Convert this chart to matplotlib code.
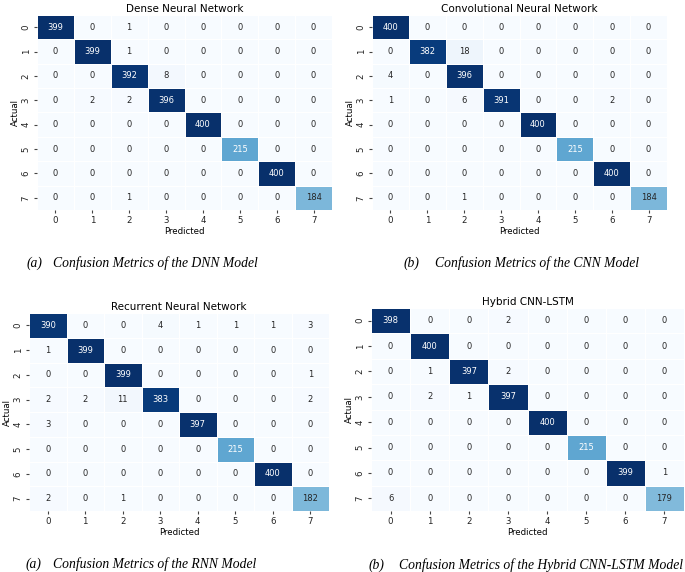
import numpy as np
import matplotlib
matplotlib.use("Agg")
import matplotlib.pyplot as plt
import seaborn as sns

classes = [0, 1, 2, 3, 4, 5, 6, 7]

dnn_cm = [
    [399, 0, 1, 0, 0, 0, 0, 0],
    [0, 399, 1, 0, 0, 0, 0, 0],
    [0, 0, 392, 8, 0, 0, 0, 0],
    [0, 2, 2, 396, 0, 0, 0, 0],
    [0, 0, 0, 0, 400, 0, 0, 0],
    [0, 0, 0, 0, 0, 215, 0, 0],
    [0, 0, 0, 0, 0, 0, 400, 0],
    [0, 0, 1, 0, 0, 0, 0, 184],
]
cnn_cm = [
    [400, 0, 0, 0, 0, 0, 0, 0],
    [0, 382, 18, 0, 0, 0, 0, 0],
    [4, 0, 396, 0, 0, 0, 0, 0],
    [1, 0, 6, 391, 0, 0, 2, 0],
    [0, 0, 0, 0, 400, 0, 0, 0],
    [0, 0, 0, 0, 0, 215, 0, 0],
    [0, 0, 0, 0, 0, 0, 400, 0],
    [0, 0, 1, 0, 0, 0, 0, 184],
]
rnn_cm = [
    [390, 0, 0, 4, 1, 1, 1, 3],
    [1, 399, 0, 0, 0, 0, 0, 0],
    [0, 0, 399, 0, 0, 0, 0, 1],
    [2, 2, 11, 383, 0, 0, 0, 2],
    [3, 0, 0, 0, 397, 0, 0, 0],
    [0, 0, 0, 0, 0, 215, 0, 0],
    [0, 0, 0, 0, 0, 0, 400, 0],
    [2, 0, 1, 0, 0, 0, 0, 182],
]
hybrid_cm = [
    [398, 0, 0, 2, 0, 0, 0, 0],
    [0, 400, 0, 0, 0, 0, 0, 0],
    [0, 1, 397, 2, 0, 0, 0, 0],
    [0, 2, 1, 397, 0, 0, 0, 0],
    [0, 0, 0, 0, 400, 0, 0, 0],
    [0, 0, 0, 0, 0, 215, 0, 0],
    [0, 0, 0, 0, 0, 0, 399, 1],
    [6, 0, 0, 0, 0, 0, 0, 179],
]

titles = ["Dense Neural Network", "Convolutional Neural Network",
          "Recurrent Neural Network", "Hybrid CNN-LSTM"]
caption_tags = ["(a)", "(b)", "(a)", "(b)"]
captions = ["Confusion Metrics of the DNN Model",
            "Confusion Metrics of the CNN Model",
            "Confusion Metrics of the RNN Model",
            "Confusion Metrics of the Hybrid CNN-LSTM Model"]

W, H = 685, 572
fig = plt.figure(figsize=(W / 100, H / 100), dpi=100)

# axes boxes in pixels: left, top, right, bottom
boxes = [
    (37, 15, 332, 210),
    (372, 15, 667, 210),
    (29, 313, 329, 511),
    (371, 308, 684, 511),
]
cap_pos = [
    (27, 53, 263),
    (404, 435, 263),
    (26, 53, 564),
    (369, 399, 565),
]

mats = [dnn_cm, cnn_cm, rnn_cm, hybrid_cm]
for i, cm in enumerate(mats):
    l, t, r, b = boxes[i]
    ax = fig.add_axes([l / W, 1 - b / H, (r - l) / W, (b - t) / H])
    sns.heatmap(np.array(cm), annot=True, fmt="d", cmap="Blues", cbar=False,
                linewidths=0.6, linecolor="white", ax=ax,
                xticklabels=classes, yticklabels=classes,
                annot_kws={"fontsize": 6})
    ax.set_title(titles[i], fontsize=7.5, pad=2)
    ax.set_xlabel("Predicted", fontsize=6.2, labelpad=1)
    ax.set_ylabel("Actual", fontsize=6.2, labelpad=1)
    ax.tick_params(axis="both", labelsize=6.2, length=2.5, width=0.8, pad=2,
                   color="#444444", labelcolor="#222222")
    xa, xb, yc = cap_pos[i]
    fig.text(xa / W, 1 - yc / H, caption_tags[i], fontsize=9.8,
             family="Liberation Serif", style="italic", va="center", ha="left")
    fig.text(xb / W, 1 - yc / H, captions[i], fontsize=9.8,
             family="Liberation Serif", style="italic", va="center", ha="left")

fig.savefig("out.png", dpi=100)
